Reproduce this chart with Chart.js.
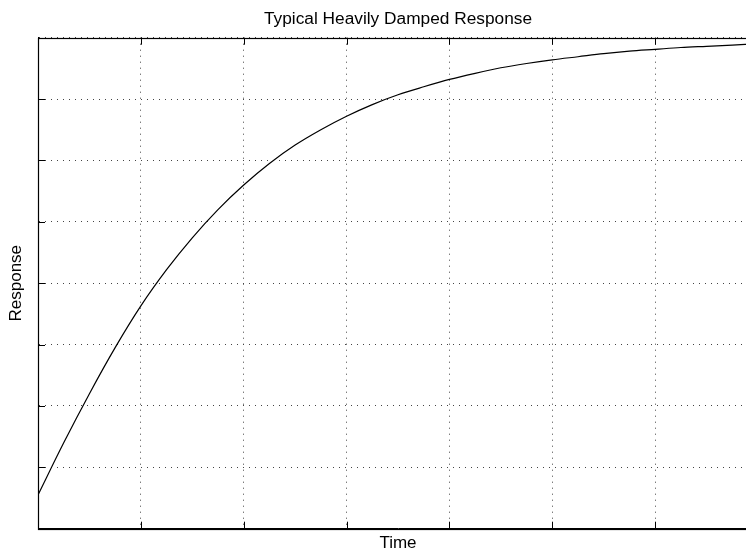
<!DOCTYPE html>
<html>
<head>
<meta charset="utf-8">
<script src="https://cdn.jsdelivr.net/npm/chart.js@4/dist/chart.umd.min.js"></script>
<style>
  html, body { margin: 0; padding: 0; background: #fff; }
  #wrap { width: 746px; height: 552px; overflow: hidden; position: relative; }
  canvas { display: block; }
</style>
</head>
<body>
<div id="wrap"><canvas id="c" width="796" height="552"></canvas></div>
<script>
// ---- data ----
const chartTitle = "Typical Heavily Damped Response";
const xTitle = "Time";
const yTitle = "Response";
const timeValues = [0, 0.25, 0.5, 0.75, 1.0, 1.25, 1.5, 1.75, 2.0, 2.25, 2.5, 2.75, 3.0, 3.25, 3.5,
                    3.75, 4.0, 4.25, 4.5, 4.75, 5.0, 5.25, 5.5, 5.75, 6.0, 6.25, 6.5, 6.75, 7.0];
const responseValues = [0.55, 1.40, 2.20, 2.95, 3.63, 4.22, 4.74, 5.20, 5.60, 5.95, 6.25, 6.50, 6.72, 6.91, 7.07,
                        7.20, 7.32, 7.42, 7.51, 7.58, 7.64, 7.69, 7.74, 7.78, 7.81, 7.84, 7.86, 7.88, 7.90];
const xRange = [0, 7];
const yRange = [0, 8];

const points = timeValues.map((t, i) => ({ x: t, y: responseValues[i] }));
const FONT = "'Liberation Sans', Arial, Helvetica, sans-serif";

// frame + inward major ticks (positions from the chart's own scales)
const framePlugin = {
  id: 'frame',
  afterDraw(chart) {
    const { ctx, chartArea: a, scales } = chart;
    ctx.save();
    ctx.strokeStyle = '#000';
    ctx.lineWidth = 1;
    ctx.setLineDash([]);
    const tl = 7;
    ctx.beginPath();
    scales.x.ticks.forEach(tk => {
      const px = Math.round(scales.x.getPixelForValue(tk.value)) + 0.5;
      ctx.moveTo(px, a.bottom); ctx.lineTo(px, a.bottom - tl);
      ctx.moveTo(px, a.top); ctx.lineTo(px, a.top + tl);
    });
    scales.y.ticks.forEach(tk => {
      const py = Math.round(scales.y.getPixelForValue(tk.value)) + 0.5;
      ctx.moveTo(a.left, py); ctx.lineTo(a.left + tl, py);
      ctx.moveTo(a.right, py); ctx.lineTo(a.right - tl, py);
    });
    ctx.stroke();
    ctx.lineWidth = 1.2;
    ctx.strokeRect(Math.round(a.left) + 0.5, Math.round(a.top) + 0.5,
                   Math.round(a.right - a.left), Math.round(a.bottom - a.top));
    ctx.restore();
  }
};

new Chart(document.getElementById('c'), {
  type: 'line',
  data: {
    datasets: [{
      data: points,
      borderColor: '#000',
      borderWidth: 1.2,
      pointRadius: 0,
      fill: false,
      cubicInterpolationMode: 'monotone'
    }]
  },
  options: {
    responsive: false,
    animation: false,
    devicePixelRatio: 1,
    layout: { padding: { left: 0, right: 38, top: 0, bottom: 0 } },
    plugins: {
      legend: { display: false },
      tooltip: { enabled: false },
      title: {
        display: true,
        fullSize: false,
        text: chartTitle,
        color: '#000',
        font: { family: FONT, size: 17.3, weight: 'normal', lineHeight: 1 },
        padding: { top: 10.5, bottom: 9.9 }
      }
    },
    scales: {
      x: {
        type: 'linear',
        min: xRange[0], max: xRange[1],
        ticks: { display: false, stepSize: 1 },
        grid: { color: '#444', lineWidth: 1, drawTicks: false },
        border: { display: true, color: '#000', width: 1, dash: [1, 5] },
        title: {
          display: true, text: xTitle, color: '#000',
          font: { family: FONT, size: 17, lineHeight: 1 },
          padding: { top: 6.3, bottom: 0 }
        }
      },
      y: {
        type: 'linear',
        min: yRange[0], max: yRange[1],
        ticks: { display: false, stepSize: 1 },
        grid: { color: '#444', lineWidth: 1, drawTicks: false },
        border: { display: true, color: '#000', width: 1, dash: [1, 5] },
        title: {
          display: true, text: yTitle, color: '#000',
          font: { family: FONT, size: 17, lineHeight: 1 },
          padding: { top: 8, bottom: 13 }
        }
      }
    }
  },
  plugins: [framePlugin]
});
</script>
</body>
</html>
